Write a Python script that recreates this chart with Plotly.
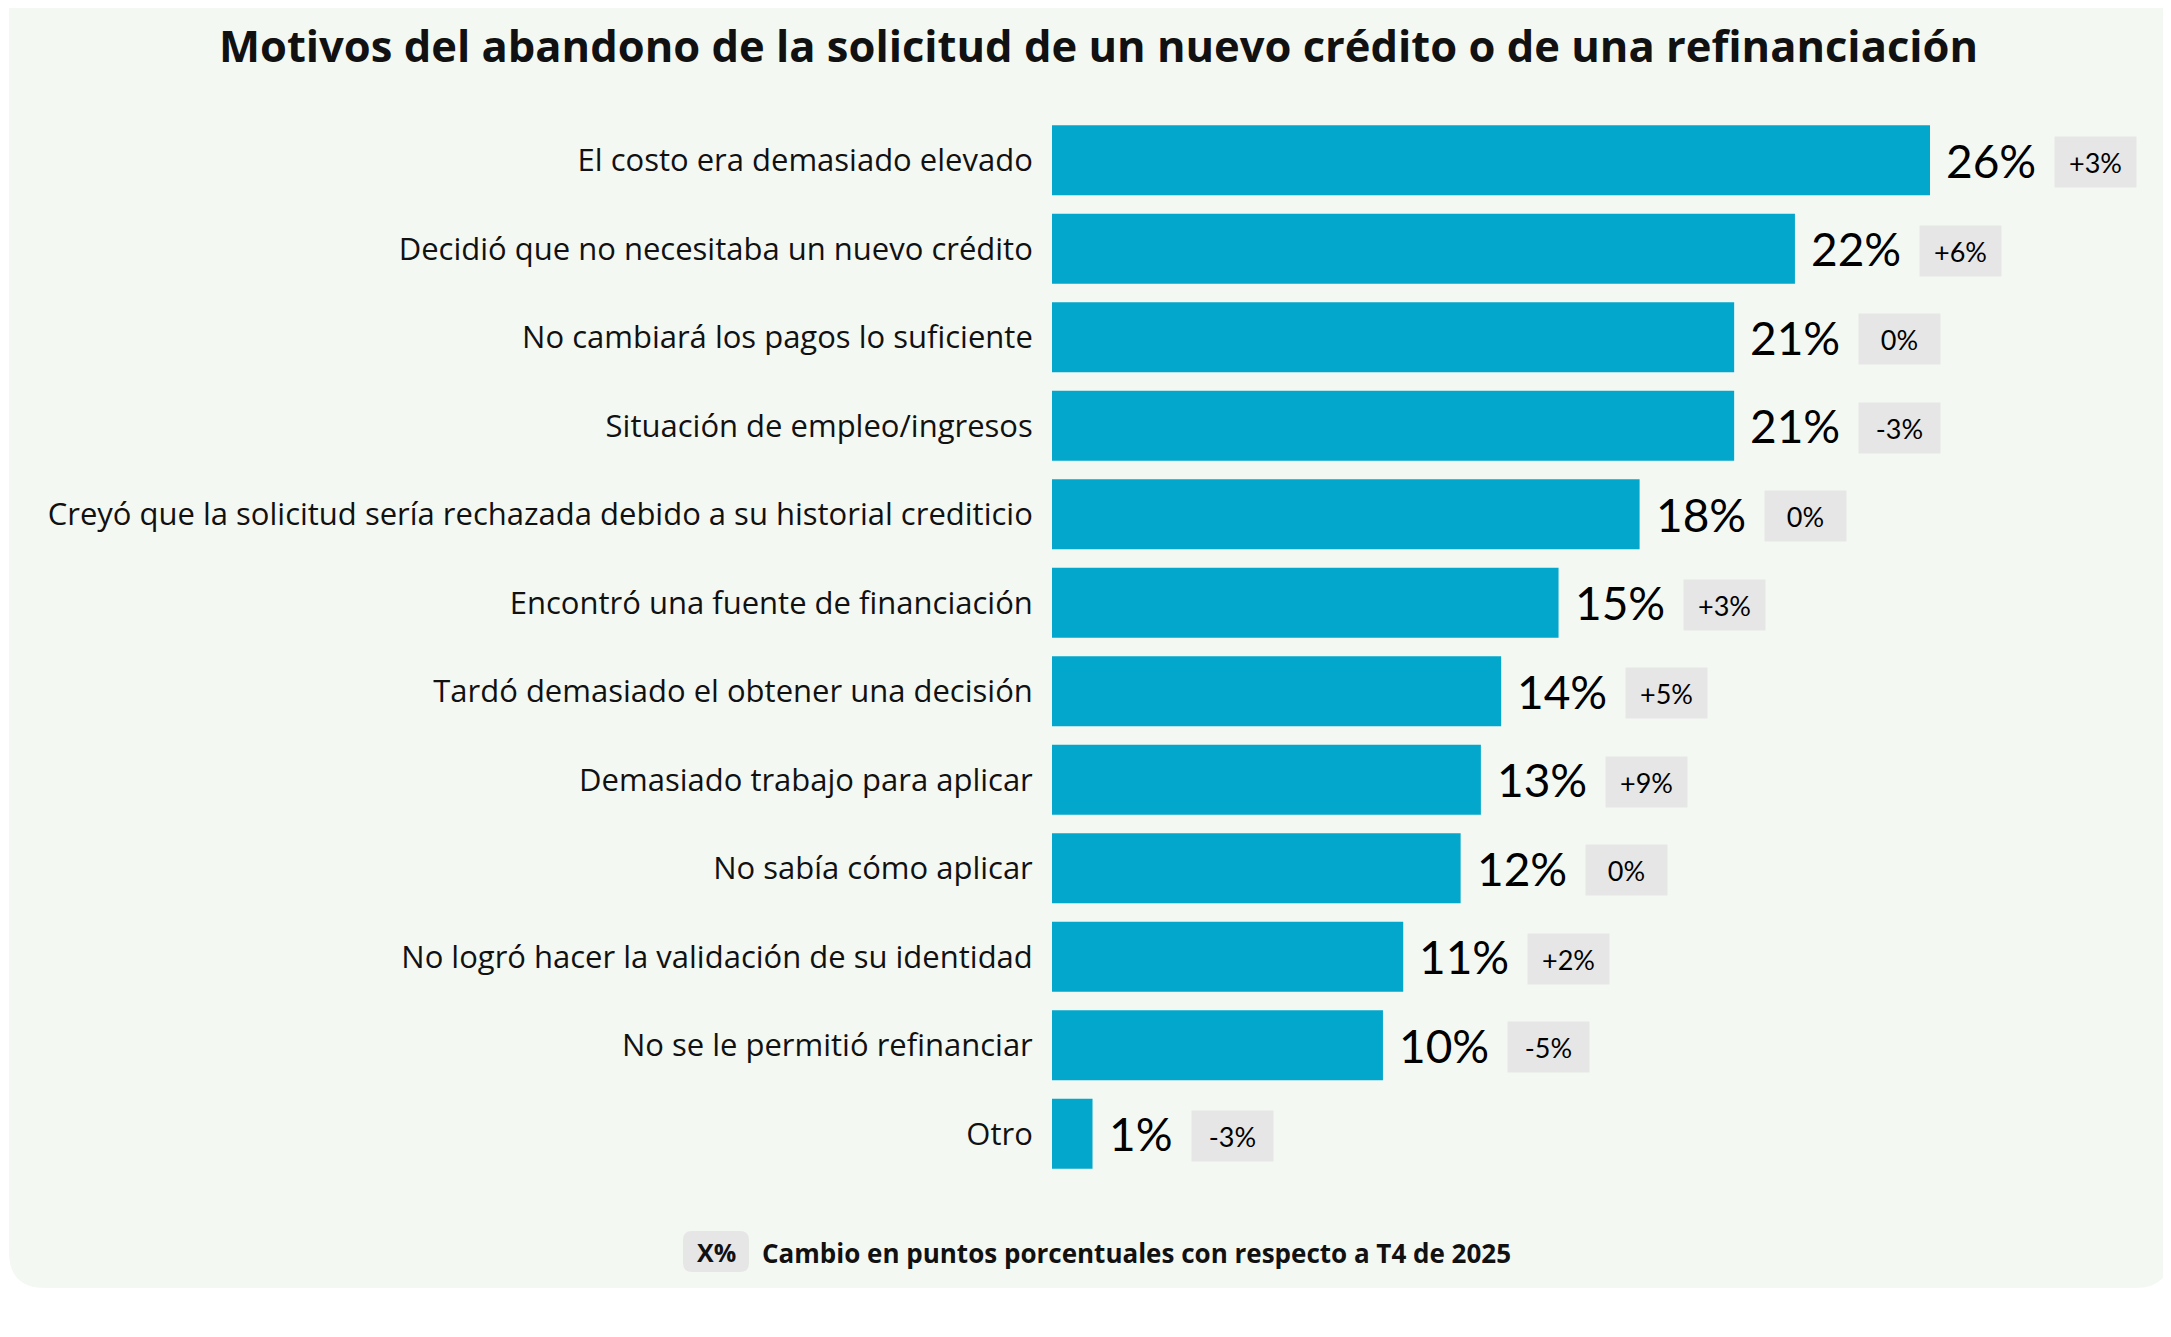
import plotly.graph_objects as go

# Data
categories = [
    "El costo era demasiado elevado",
    "Decidió que no necesitaba un nuevo crédito",
    "No cambiará los pagos lo suficiente",
    "Situación de empleo/ingresos",
    "Creyó que la solicitud sería rechazada debido a su historial crediticio",
    "Encontró una fuente de financiación",
    "Tardó demasiado el obtener una decisión",
    "Demasiado trabajo para aplicar",
    "No sabía cómo aplicar",
    "No logró hacer la validación de su identidad",
    "No se le permitió refinanciar",
    "Otro",
]
# bar lengths as drawn
bar_values = [26.0, 22.0, 20.2, 20.2, 17.4, 15.0, 13.3, 12.7, 12.1, 10.4, 9.8, 1.2]
value_labels = ["26%", "22%", "21%", "21%", "18%", "15%", "14%", "13%", "12%", "11%", "10%", "1%"]
change_labels = ["+3%", "+6%", "0%", "-3%", "0%", "+3%", "+5%", "+9%", "0%", "+2%", "-5%", "-3%"]

title_text = "Motivos del abandono de la solicitud de un nuevo crédito o de una refinanciación"
footer_text = "Cambio en puntos porcentuales con respecto a T4 de 2025"

BAR_COLOR = "#02A7CB"
PANEL_COLOR = "#F4F8F3"
BOX_COLOR = "#E6E6E6"
FONT = "Open Sans"
NUM_FONT = "Lato"

# figure geometry (pixels)
W, H = 2163, 1320
ml, mr, mt = 1044, 0, 108
ph = 12 * 88.5
mb = H - mt - ph
pw = W - ml - mr
px_per_unit = 33.77


def px2x(px):
    return (px - ml) / pw


def py2y(py):
    return 1 - (py - mt) / ph


def rounded_rect(x0, y0, x1, y1, r):
    # path in paper coordinates from pixel corners
    pts = [
        f"M {px2x(x0 + r)},{py2y(y0)}",
        f"L {px2x(x1 - r)},{py2y(y0)}",
        f"Q {px2x(x1)},{py2y(y0)} {px2x(x1)},{py2y(y0 + r)}",
        f"L {px2x(x1)},{py2y(y1 - r)}",
        f"Q {px2x(x1)},{py2y(y1)} {px2x(x1 - r)},{py2y(y1)}",
        f"L {px2x(x0 + r)},{py2y(y1)}",
        f"Q {px2x(x0)},{py2y(y1)} {px2x(x0)},{py2y(y1 - r)}",
        f"L {px2x(x0)},{py2y(y0 + r)}",
        f"Q {px2x(x0)},{py2y(y0)} {px2x(x0 + r)},{py2y(y0)}",
        "Z",
    ]
    return " ".join(pts)


fig = go.Figure()

fig.add_trace(go.Bar(
    x=bar_values,
    y=categories,
    orientation="h",
    marker=dict(color=BAR_COLOR, line=dict(width=0)),
    hoverinfo="skip",
))

# big value labels + change boxes
for cat, v, lab, chg in zip(categories, bar_values, value_labels, change_labels):
    fig.add_annotation(
        x=v, y=cat, xref="x", yref="y",
        text=lab, showarrow=False,
        xanchor="left", yanchor="middle", xshift=14,
        font=dict(family=NUM_FONT, size=46, color="#000000"),
    )
    box_shift = 124 if len(lab) == 3 else 98
    fig.add_annotation(
        x=v, y=cat, xref="x", yref="y",
        text=chg, showarrow=False,
        xanchor="left", yanchor="middle", xshift=box_shift, yshift=-2,
        width=81, height=50, bgcolor=BOX_COLOR, borderpad=0,
        font=dict(family=NUM_FONT, size=27, color="#000000"),
    )

# background panel
fig.add_shape(
    type="path", xref="paper", yref="paper",
    path=rounded_rect(1, -40, W, 1280, 36),
    fillcolor=PANEL_COLOR, line=dict(width=0), layer="below",
)

# footer legend box
fig.add_shape(
    type="path", xref="paper", yref="paper",
    path=rounded_rect(675, 1223, 741, 1264, 9),
    fillcolor=BOX_COLOR, line=dict(width=0), layer="below",
)
fig.add_annotation(
    x=px2x(708), y=py2y(1244), xref="paper", yref="paper",
    text="<b>X%</b>", showarrow=False, xanchor="center", yanchor="middle",
    font=dict(family=FONT, size=25, color="#111111"),
)
fig.add_annotation(
    x=px2x(752), y=py2y(1245), xref="paper", yref="paper",
    text=f"<b>{footer_text}</b>", showarrow=False, xanchor="left", yanchor="middle",
    font=dict(family=FONT, size=26, color="#111111"),
)

# title
fig.add_annotation(
    x=px2x(1090), y=py2y(38), xref="paper", yref="paper",
    text=f"<b>{title_text}</b>", showarrow=False, xanchor="center", yanchor="middle",
    font=dict(family=FONT, size=43.5, color="#111111"),
)

fig.update_layout(
    width=W,
    height=H,
    margin=dict(l=ml, r=mr, t=mt, b=mb, pad=0),
    paper_bgcolor="white",
    plot_bgcolor="rgba(0,0,0,0)",
    bargap=0.21,
    showlegend=False,
    font=dict(family=FONT, color="#111111"),
)
fig.update_xaxes(
    range=[0, pw / px_per_unit],
    visible=False, fixedrange=True,
)
fig.update_yaxes(
    categoryorder="array", categoryarray=categories,
    autorange="reversed",
    showgrid=False, zeroline=False, showline=False,
    ticks="outside", ticklen=12, tickcolor="rgba(0,0,0,0)",
    tickfont=dict(family=FONT, size=31, color="#111111"),
    fixedrange=True,
)

fig.write_html("out.html")
